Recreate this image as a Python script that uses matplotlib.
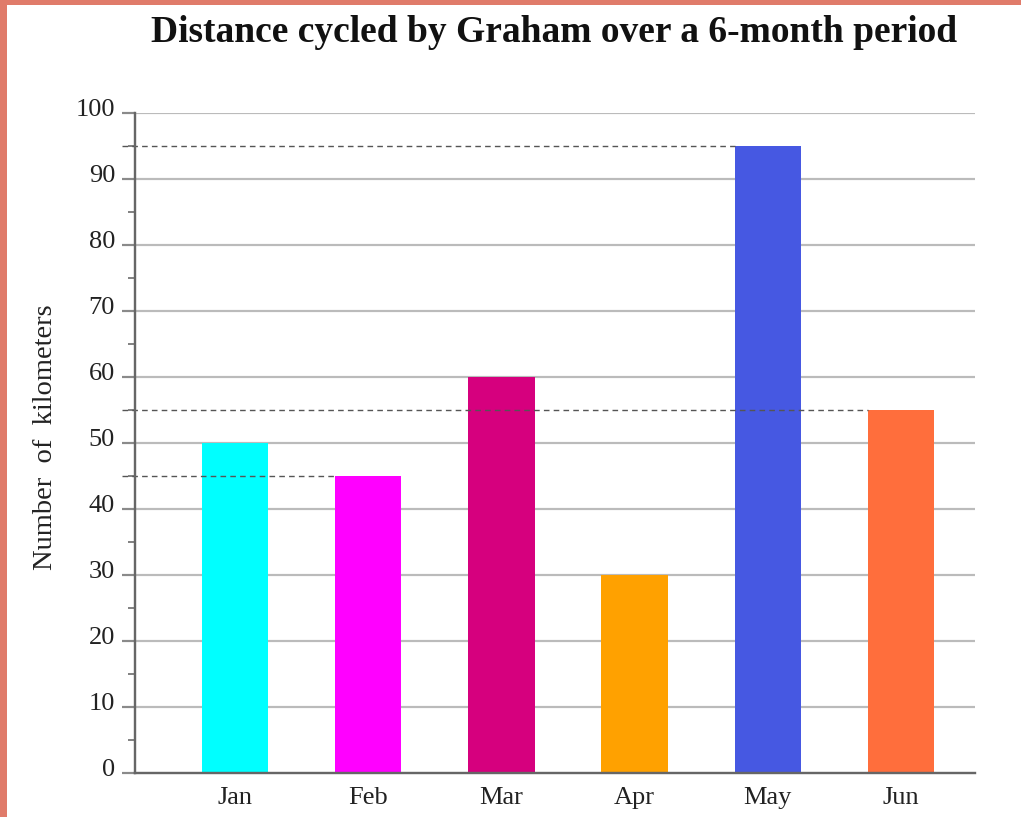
import matplotlib
matplotlib.use("Agg")
import matplotlib.pyplot as plt
from matplotlib.patches import Rectangle
from matplotlib.transforms import ScaledTranslation

months = ["Jan", "Feb", "Mar", "Apr", "May", "Jun"]
distances = [50, 45, 60, 30, 95, 55]
bar_colors = ["#00FFFF", "#FF00FF", "#D6007E", "#FFA100", "#4658E2", "#FF6E3C"]
y_ticks = [0, 10, 20, 30, 40, 50, 60, 70, 80, 90, 100]
# reference (dashed) lines: value, index of bar it ends at
ref_lines = [(95, 4), (55, 5), (45, 1)]

plt.rcParams['font.family'] = ['Liberation Serif', 'DejaVu Serif']

W, H = 1021, 817
PX = 72 / 100  # points per pixel at dpi 100
fig = plt.figure(figsize=(W / 100, H / 100), dpi=100)
fig.patch.set_facecolor("white")

# salmon frame on left and top
fig.patches.append(Rectangle((0, 0), 7 / W, 1, transform=fig.transFigure,
                             facecolor="#E07B6A", edgecolor="none", zorder=10))
fig.patches.append(Rectangle((0, 1 - 5 / H), 1, 5 / H, transform=fig.transFigure,
                             facecolor="#E07B6A", edgecolor="none", zorder=10))

left, right = 135 / W, 975 / W
bottom, top = (H - 773) / H, (H - 113) / H
ax = fig.add_axes([left, bottom, right - left, top - bottom])

x = list(range(len(months)))
bw = 0.5
ax.bar(x, distances, width=bw, color=bar_colors, zorder=2)

ax.set_xlim(-0.75, 5.555)
ax.set_ylim(0, 100)

for v in y_ticks[1:]:
    ax.axhline(v, color="#BBBBBB", lw=2.2 * PX, zorder=1)

for val, idx in ref_lines:
    ax.plot([-0.85, idx - bw / 2], [val, val], color="#555555", lw=1.4 * PX,
            linestyle=(0, (4, 3)), zorder=3, clip_on=False)

ax.set_yticks(y_ticks)
ax.set_yticks([v + 5 for v in y_ticks[:-1]], minor=True)
ax.tick_params(axis="y", which="major", length=13 * PX, width=2.2 * PX, color="#8A8A8A",
               labelsize=19, pad=7 * PX, labelcolor="#222222")
ax.tick_params(axis="y", which="minor", length=7 * PX, width=1.6 * PX, color="#666666")
ax.set_xticks(x)
ax.set_xticklabels(months)
ax.tick_params(axis="x", length=0, labelsize=19, pad=10, labelcolor="#222222")

# shift y tick labels slightly upward as in the reference
off = ScaledTranslation(0, 5.5 / 100, fig.dpi_scale_trans)
for lab in ax.get_yticklabels():
    lab.set_transform(lab.get_transform() + off)

for s in ["top", "right"]:
    ax.spines[s].set_visible(False)
for s in ["left", "bottom"]:
    ax.spines[s].set_color("#666666")
    ax.spines[s].set_linewidth(2.4 * PX)
    ax.spines[s].set_zorder(4)

fig.text(45 / W, 1 - 437 / H, "Number  of  kilometers", rotation=90,
         ha="center", va="center", fontsize=20.5, color="#222222")
fig.text(554 / W, 1 - 32 / H, "Distance cycled by Graham over a 6-month period",
         ha="center", va="center", fontsize=27, fontweight="bold", color="#111111")

fig.savefig("out.png", dpi=100)
